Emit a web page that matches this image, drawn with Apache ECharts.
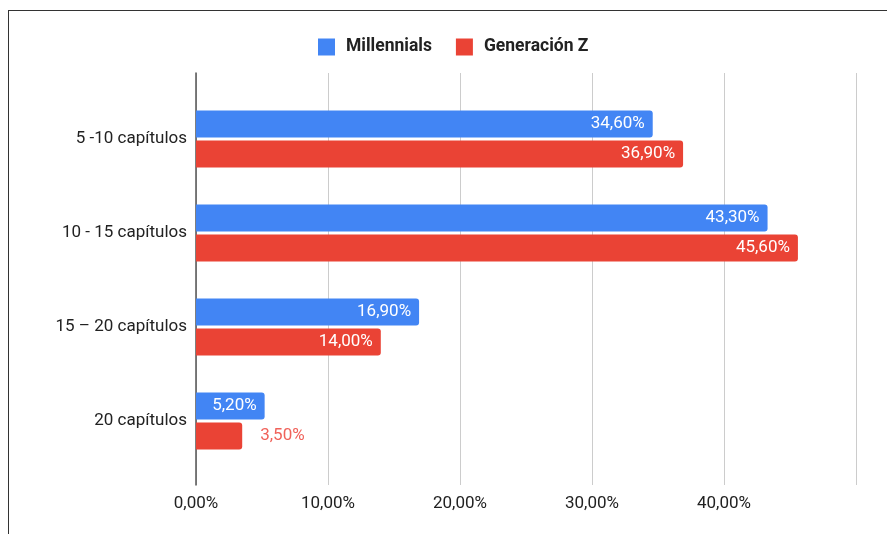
<!DOCTYPE html>
<html>
<head>
<meta charset="utf-8">
<script src="https://cdn.jsdelivr.net/npm/echarts@6/dist/echarts.min.js"></script>
<style>
  html, body { margin: 0; padding: 0; background: #fff; }
  #frame { position: absolute; left: 8px; top: 10px; width: 879px; height: 524px;
           border-top: 1px solid #333; border-left: 1px solid #333; box-sizing: border-box; }
  #chart { position: absolute; left: 0; top: 0; width: 887px; height: 534px; }
</style>
</head>
<body>
<div id="frame"></div>
<div id="chart"></div>
<script>
const categories = ['5 -10 capítulos', '10 - 15 capítulos', '15 – 20 capítulos', '20 capítulos'];
const millennials = [34.6, 43.3, 16.9, 5.2];
const generacionZ = [36.9, 45.6, 14.0, 3.5];
const xTicks = [0, 10, 20, 30, 40, 50];

const BLUE = '#4285f4';
const RED = '#ea4335';
const FONT = 'Roboto';

const pct = v => v.toFixed(2).replace('.', ',') + '%';

// Short bars get their label outside the bar, in the series colour.
function withLabels(values, outsideColor) {
  return values.map(v => v < 4
    ? { value: v, label: { position: 'right', distance: 18, color: outsideColor } }
    : { value: v });
}

const chart = echarts.init(document.getElementById('chart'), null, { renderer: 'canvas' });
chart.setOption({
  animation: false,
  textStyle: { fontFamily: FONT },
  legend: {
    top: 38, left: 318, padding: 0,
    itemWidth: 17, itemHeight: 17, itemGap: 24,
    icon: 'rect',
    textStyle: { fontFamily: FONT, fontSize: 17.5, fontWeight: 'bold', color: '#222', padding: [0, 0, 0, 6] },
    data: ['Millennials', 'Generación Z']
  },
  grid: [
    { left: 196, right: 31, top: 73, bottom: 49 },
    { left: 196, right: 31, top: 92, height: 376 }
  ],
  xAxis: [
    {
      gridIndex: 0, type: 'value', min: xTicks[0], max: xTicks[xTicks.length - 1], interval: 10,
      axisLine: { show: false }, axisTick: { show: false },
      splitLine: { lineStyle: { color: '#cccccc', width: 1 } },
      axisLabel: {
        fontFamily: FONT, fontSize: 17, color: '#222', margin: 10,
        formatter: v => (v === 50 ? '' : pct(v))
      }
    },
    {
      gridIndex: 1, type: 'value', min: xTicks[0], max: xTicks[xTicks.length - 1],
      show: false
    }
  ],
  yAxis: [
    {
      gridIndex: 0, type: 'value',
      axisLine: { show: true, lineStyle: { color: '#555', width: 1.5 } },
      axisTick: { show: false }, axisLabel: { show: false }, splitLine: { show: false }
    },
    {
      gridIndex: 1, type: 'category', inverse: true, data: categories,
      axisLine: { show: false }, axisTick: { show: false },
      axisLabel: { fontFamily: FONT, fontSize: 17, color: '#222', margin: 9 }
    }
  ],
  series: [
    {
      name: 'Millennials', type: 'bar', xAxisIndex: 1, yAxisIndex: 1,
      data: withLabels(millennials, BLUE),
      barWidth: 27, barGap: '11%',
      itemStyle: { color: BLUE, borderRadius: [0, 3, 3, 0] },
      label: { show: true, position: 'insideRight', distance: 8, color: '#fff',
               fontFamily: FONT, fontSize: 17, formatter: p => pct(p.value) }
    },
    {
      name: 'Generación Z', type: 'bar', xAxisIndex: 1, yAxisIndex: 1,
      data: withLabels(generacionZ, '#f0625a'),
      barWidth: 27, barGap: '11%',
      itemStyle: { color: RED, borderRadius: [0, 3, 3, 0] },
      label: { show: true, position: 'insideRight', distance: 8, color: '#fff',
               fontFamily: FONT, fontSize: 17, formatter: p => pct(p.value) }
    }
  ]
});
</script>
</body>
</html>
